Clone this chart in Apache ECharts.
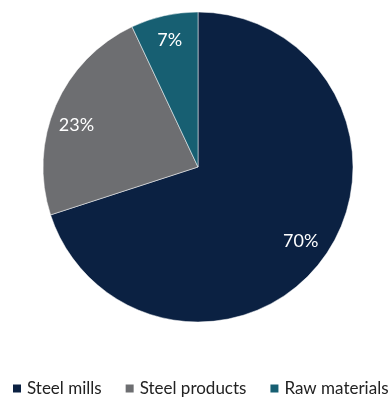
<!DOCTYPE html>
<html>
<head>
  <meta charset="utf-8">
</head>
<body style="margin: 0">
  <div id="container" style="width: 391px; height: 399px"></div>
  <script src="https://cdn.jsdelivr.net/npm/echarts@6/dist/echarts.min.js"></script>
  <script>
    var categories = ['Steel mills', 'Steel products', 'Raw materials'];
    var shares = [70, 23, 7];
    var colors = ['#0b2142', '#6d6e71', '#175f72'];

    var chart = echarts.init(document.getElementById('container'), null, { renderer: 'canvas' });

    var R = 155;
    // where each label sits: fraction of radius, and angle nudge (degrees)
    var labelFrac = [0.80, 0.81, 0.82];
    var labelTurn = [0, -4.5, 0];
    var total = shares.reduce(function (a, b) { return a + b; }, 0);
    var acc = 0;
    var data = categories.map(function (name, i) {
      var midDeg = (acc + shares[i] / 2) / total * 360;
      acc += shares[i];
      // inside label starts at the mid angle, half radius
      var base = midDeg * Math.PI / 180;
      var want = (midDeg + labelTurn[i]) * Math.PI / 180;
      var r = labelFrac[i] * R;
      var dx = Math.sin(want) * r - Math.sin(base) * R / 2;
      var dy = -Math.cos(want) * r + Math.cos(base) * R / 2;
      return {
        name: name,
        value: shares[i],
        itemStyle: { color: colors[i] },
        label: { offset: [dx, dy] }
      };
    });

    var option = {
      animation: false,
      legend: {
        bottom: 2,
        left: 11,
        width: 380,
        padding: 0,
        itemWidth: 10,
        itemHeight: 10,
        itemGap: 22,
        icon: 'rect',
        textStyle: { fontFamily: 'Lato', fontSize: 17, color: '#222' },
        data: categories
      },
      series: [{
        type: 'pie',
        center: [198, 167],
        radius: [0, R],
        startAngle: 90,
        clockwise: true,
        data: data,
        itemStyle: { borderColor: '#fff', borderWidth: 0.5 },
        label: {
          position: 'inside',
          formatter: '{c}%',
          color: '#fff',
          fontFamily: 'Lato',
          fontSize: 18
        },
        labelLine: { show: false }
      }]
    };
    chart.setOption(option);
  </script>
</body>
</html>
